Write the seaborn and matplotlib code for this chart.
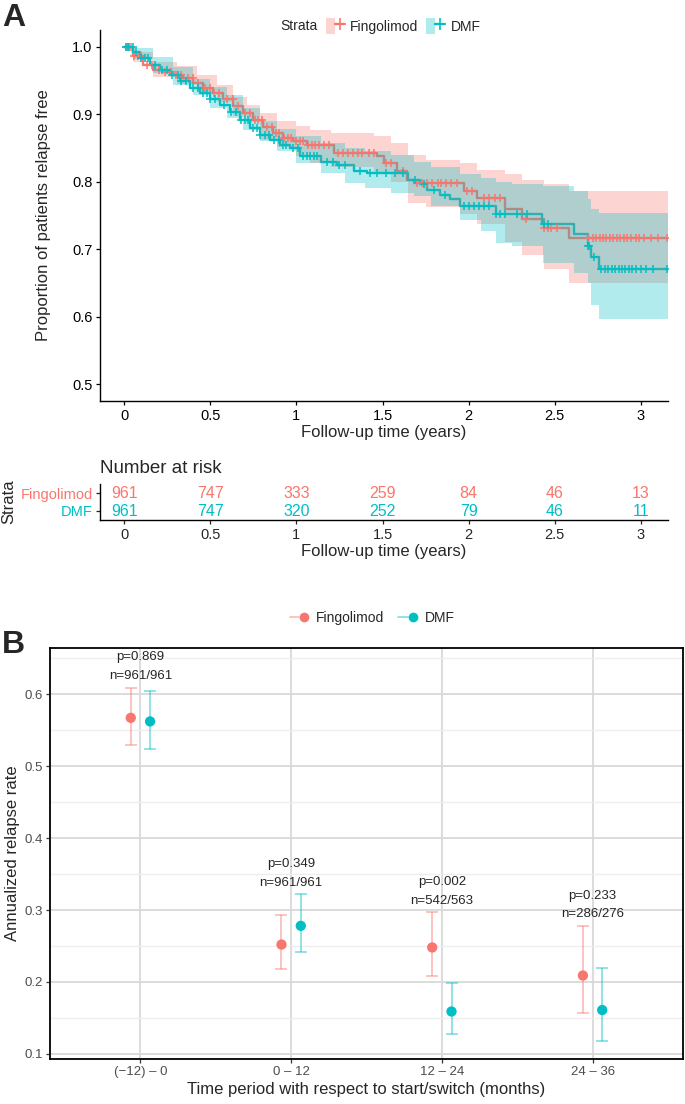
import numpy as np
import pandas as pd
import matplotlib
matplotlib.use("Agg")
import matplotlib.pyplot as plt
from matplotlib.lines import Line2D
from matplotlib.patches import Patch
from matplotlib.legend_handler import HandlerTuple
import seaborn as sns

sns.set_theme(style="ticks")
plt.rcParams["font.family"] = ["Liberation Sans", "DejaVu Sans"]

RED = "#F8766D"
CYAN = "#00BFC4"
groups = ["Fingolimod", "DMF"]

# ---- panel A: Kaplan-Meier steps ----
fingo_t = [0, 0.054, 0.112, 0.170, 0.228, 0.286, 0.344, 0.402, 0.460, 0.518, 0.576, 0.634,
           0.692, 0.750, 0.808, 0.866, 0.925, 0.983, 1.06, 1.217, 1.469, 1.508, 1.585, 1.644,
           1.682, 1.973, 2.05, 2.21, 2.31, 2.435, 2.58]
fingo_s = [1.0, 0.986, 0.973, 0.966, 0.962, 0.959, 0.954, 0.946, 0.939, 0.932, 0.922, 0.912,
           0.902, 0.892, 0.881, 0.872, 0.865, 0.860, 0.855, 0.843, 0.838, 0.828, 0.816, 0.803,
           0.798, 0.786, 0.776, 0.759, 0.745, 0.732, 0.716]
dmf_t = [0, 0.054, 0.093, 0.151, 0.209, 0.267, 0.325, 0.383, 0.441, 0.499, 0.557, 0.615,
         0.673, 0.731, 0.789, 0.847, 0.905, 0.963, 1.021, 1.14, 1.236, 1.333, 1.41, 1.65, 1.72,
         1.76, 1.834, 1.89, 1.95, 2.157, 2.425, 2.61, 2.69, 2.71, 2.757]
dmf_s = [1.0, 0.993, 0.983, 0.973, 0.966, 0.959, 0.949, 0.939, 0.932, 0.922, 0.914, 0.904,
         0.892, 0.880, 0.870, 0.862, 0.855, 0.850, 0.838, 0.830, 0.825, 0.816, 0.813, 0.803,
         0.796, 0.788, 0.781, 0.774, 0.764, 0.752, 0.738, 0.722, 0.705, 0.688, 0.671]

# confidence bands
fingo_band_t = [0, 0.05, 0.17, 0.306, 0.422, 0.538, 0.634, 0.712, 0.789, 0.886, 1.0, 1.08,
                1.2, 1.45, 1.55, 1.65, 1.75, 1.95, 2.05, 2.21, 2.31, 2.435, 2.58]
fingo_lo = [1.0, 0.978, 0.955, 0.945, 0.933, 0.918, 0.898, 0.888, 0.862, 0.852, 0.838, 0.828,
            0.822, 0.815, 0.800, 0.768, 0.763, 0.752, 0.737, 0.710, 0.691, 0.671, 0.650]
fingo_hi = [1.0, 0.992, 0.978, 0.971, 0.959, 0.944, 0.926, 0.914, 0.902, 0.890, 0.882, 0.877,
            0.873, 0.868, 0.858, 0.840, 0.833, 0.828, 0.818, 0.811, 0.803, 0.796, 0.786]
dmf_band_t = [0, 0.05, 0.17, 0.286, 0.402, 0.499, 0.596, 0.692, 0.789, 0.886, 1.0, 1.14,
              1.28, 1.4, 1.55, 1.68, 1.78, 1.95, 2.07, 2.157, 2.25, 2.43, 2.61, 2.69, 2.71,
              2.757]
dmf_lo = [1.0, 0.982, 0.961, 0.944, 0.929, 0.909, 0.895, 0.877, 0.860, 0.845, 0.828, 0.813,
          0.798, 0.791, 0.784, 0.779, 0.764, 0.744, 0.727, 0.709, 0.705, 0.680, 0.665, 0.650,
          0.618, 0.596]
dmf_hi = [1.0, 0.998, 0.985, 0.970, 0.952, 0.940, 0.928, 0.910, 0.890, 0.878, 0.868, 0.857,
          0.850, 0.845, 0.840, 0.830, 0.822, 0.812, 0.806, 0.800, 0.797, 0.793, 0.786, 0.774,
          0.760, 0.754]

# censoring times
fingo_cens = [0.01, 0.02, 0.04, 0.06, 0.08, 0.1, 0.13, 0.16, 0.2, 0.24, 0.27, 0.3, 0.33, 0.37,
              0.4, 0.43, 0.47, 0.5, 0.52, 0.55, 0.6, 0.63, 0.66, 0.7, 0.73, 0.76, 0.78, 0.8,
              0.83, 0.86, 0.88, 0.9, 0.93, 0.95, 0.97, 1.0, 1.02, 1.04, 1.07, 1.09, 1.11, 1.13,
              1.16, 1.19, 1.24, 1.27, 1.3, 1.33, 1.36, 1.38, 1.42, 1.45, 1.52, 1.55, 1.62, 1.7,
              1.73, 1.76, 1.79, 1.82, 1.84, 1.87, 1.9, 1.93, 1.99, 2.02, 2.09, 2.12, 2.15, 2.18,
              2.33, 2.44, 2.46, 2.48, 2.51, 2.69, 2.72, 2.74, 2.76, 2.78, 2.8, 2.82, 2.84, 2.86,
              2.88, 2.9, 2.92, 2.94, 2.97, 2.99, 3.02, 3.06, 3.1, 3.15]
dmf_cens = [0.01, 0.02, 0.03, 0.05, 0.07, 0.1, 0.12, 0.14, 0.18, 0.22, 0.25, 0.28, 0.31, 0.33,
            0.36, 0.4, 0.43, 0.46, 0.48, 0.5, 0.53, 0.58, 0.62, 0.65, 0.68, 0.7, 0.72, 0.75,
            0.77, 0.79, 0.82, 0.84, 0.87, 0.9, 0.92, 0.94, 0.98, 1.01, 1.04, 1.06, 1.08, 1.1,
            1.12, 1.18, 1.21, 1.25, 1.28, 1.37, 1.43, 1.47, 1.52, 1.57, 1.62, 1.69, 1.74, 1.8,
            1.86, 1.97, 2.0, 2.03, 2.06, 2.09, 2.12, 2.16, 2.18, 2.21, 2.28, 2.34, 2.44, 2.46,
            2.69, 2.7, 2.73, 2.77, 2.79, 2.81, 2.83, 2.85, 2.87, 2.89, 2.91, 2.93, 2.95, 2.97,
            3.0, 3.03, 3.07, 3.15]

risk_times = [0, 0.5, 1, 1.5, 2, 2.5, 3]
fingo_risk = [961, 747, 333, 259, 84, 46, 13]
dmf_risk = [961, 747, 320, 252, 79, 46, 11]

# ---- panel B: annualized relapse rate ----
periods = ["(\u221212) \u2013 0", "0 \u2013 12", "12 \u2013 24", "24 \u2013 36"]
fingo_arr = [0.567, 0.252, 0.248, 0.209]
fingo_arr_lo = [0.529, 0.218, 0.208, 0.157]
fingo_arr_hi = [0.609, 0.293, 0.297, 0.278]
dmf_arr = [0.562, 0.278, 0.159, 0.161]
dmf_arr_lo = [0.523, 0.241, 0.128, 0.118]
dmf_arr_hi = [0.604, 0.322, 0.199, 0.220]
p_labels = ["p=0.869", "p=0.349", "p=0.002", "p=0.233"]
n_labels = ["n=961/961", "n=961/961", "n=542/563", "n=286/276"]

W, H = 685, 1104
fig = plt.figure(figsize=(W / 100, H / 100), dpi=100)


def box(l, t, r, b):
    return [l / W, 1 - b / H, (r - l) / W, (b - t) / H]


T_END = 3.157
XLIM = (-0.14, T_END)
XTL = ["0", "0.5", "1", "1.5", "2", "2.5", "3"]

# ================= Panel A =================
ax = fig.add_axes(box(100, 30, 668, 401))
km = {
    "Fingolimod": (fingo_t, fingo_s, fingo_band_t, fingo_lo, fingo_hi, fingo_cens, RED),
    "DMF": (dmf_t, dmf_s, dmf_band_t, dmf_lo, dmf_hi, dmf_cens, CYAN),
}
for name, (t, s, bt, lo, hi, cens, col) in km.items():
    steps = pd.DataFrame({"time": t + [T_END], "surv": s + [s[-1]]})
    sns.lineplot(data=steps, x="time", y="surv", color=col, lw=1.7,
                 drawstyle="steps-post", ax=ax, zorder=2)
for name, (t, s, bt, lo, hi, cens, col) in km.items():
    ax.fill_between(bt + [T_END], lo + [lo[-1]], hi + [hi[-1]], step="post",
                    color=col, alpha=0.3, lw=0, zorder=3)
for name, (t, s, bt, lo, hi, cens, col) in km.items():
    idx = np.searchsorted(t, cens, side="right") - 1
    marks = pd.DataFrame({"time": cens, "surv": np.asarray(s)[idx]})
    sns.scatterplot(data=marks, x="time", y="surv", marker="+", color=col, s=40,
                    linewidth=1.1, ax=ax, zorder=4)

ax.set_xlim(*XLIM)
ax.set_ylim(0.475, 1.025)
ax.set_xticks(risk_times)
ax.set_xticklabels(XTL)
ax.set_yticks([0.5, 0.6, 0.7, 0.8, 0.9, 1.0])
ax.set_yticklabels(["0.5", "0.6", "0.7", "0.8", "0.9", "1.0"])
ax.tick_params(labelsize=10.5, length=3, width=0.9, colors="black", pad=2.5)
ax.set_xlabel("Follow-up time (years)", fontsize=12, labelpad=1.5)
ax.set_ylabel("Proportion of patients relapse free", fontsize=12, labelpad=15)
for sp in ["top", "right"]:
    ax.spines[sp].set_visible(False)
for sp in ["left", "bottom"]:
    ax.spines[sp].set_linewidth(1.0)
    ax.spines[sp].set_color("black")

handles_a = [(Patch(facecolor=c, alpha=0.3, lw=0),
              Line2D([], [], color=c, lw=1.7, marker="+", ms=8, mew=1.2))
             for c in (RED, CYAN)]
fig.text(280 / W, 1 - 26 / H, "Strata", fontsize=10, va="center", ha="left")
fig.legend(handles_a, groups, handler_map={tuple: HandlerTuple(ndivide=None)},
           loc="center left", bbox_to_anchor=(326 / W, 1 - 26 / H), ncol=2, frameon=False,
           fontsize=10, handlelength=1.3, handleheight=1.35, handletextpad=0.45,
           columnspacing=0.55, borderpad=0, borderaxespad=0)
fig.text(2 / W, 1 - 18 / H, "A", fontsize=23, fontweight="bold", va="center", ha="left")

# ================= Risk table =================
axr = fig.add_axes(box(100, 484, 668, 520))
for y, counts, col in [(1.5, fingo_risk, RED), (0.5, dmf_risk, CYAN)]:
    for tt, n in zip(risk_times, counts):
        axr.text(tt, y, str(n), color=col, fontsize=11.5, ha="center", va="center")
axr.set_xlim(*XLIM)
axr.set_ylim(0, 2)
axr.set_xticks(risk_times)
axr.set_xticklabels(XTL)
axr.set_yticks([1.5, 0.5])
axr.set_yticklabels(groups)
for lab, col in zip(axr.get_yticklabels(), (RED, CYAN)):
    lab.set_color(col)
axr.tick_params(axis="y", labelsize=10.5, length=3, width=0.9, pad=2)
axr.tick_params(axis="x", labelsize=10.5, length=3, width=0.9, pad=3)
axr.set_xlabel("Follow-up time (years)", fontsize=12, labelpad=1.5)
axr.set_ylabel("Strata", fontsize=12, labelpad=3)
axr.set_title("Number at risk", loc="left", fontsize=13.5, pad=8)
for sp in ["top", "right"]:
    axr.spines[sp].set_visible(False)
for sp in ["left", "bottom"]:
    axr.spines[sp].set_linewidth(1.0)
    axr.spines[sp].set_color("black")

# ================= Panel B =================
axb = fig.add_axes(box(50, 648, 683, 1059))
dodge = 0.064
arr = pd.DataFrame({
    "period": periods * 2,
    "group": [groups[0]] * 4 + [groups[1]] * 4,
    "rate": fingo_arr + dmf_arr,
    "lo": fingo_arr_lo + dmf_arr_lo,
    "hi": fingo_arr_hi + dmf_arr_hi,
})
arr["pos"] = [i - dodge for i in range(4)] + [i + dodge for i in range(4)]
palette = {groups[0]: RED, groups[1]: CYAN}

axb.set_axisbelow(True)
axb.set_yticks([0.1, 0.2, 0.3, 0.4, 0.5, 0.6])
axb.set_yticks([0.15, 0.25, 0.35, 0.45, 0.55, 0.65], minor=True)
axb.set_xticks(range(4))
axb.set_xticklabels(periods)
axb.grid(which="major", color="#D9D9D9", lw=1.3)
axb.grid(which="minor", axis="y", color="#EDEDED", lw=0.9)

for g, sub in arr.groupby("group", sort=False):
    axb.errorbar(sub["pos"], sub["rate"], yerr=[sub["rate"] - sub["lo"], sub["hi"] - sub["rate"]],
                 fmt="none", ecolor=palette[g], alpha=0.55, elinewidth=1.1, capsize=4.5,
                 capthick=1.1, zorder=2)
sns.scatterplot(data=arr, x="pos", y="rate", hue="group", palette=palette, s=55,
                edgecolor="none", legend=False, ax=axb, zorder=3)

top = np.maximum(fingo_arr_hi, dmf_arr_hi)
for i in range(4):
    axb.text(i, top[i] + 0.016, n_labels[i], ha="center", va="center", fontsize=9.5)
    axb.text(i, top[i] + 0.042, p_labels[i], ha="center", va="center", fontsize=9.5)

axb.set_xlim(-0.6, 3.6)
axb.set_ylim(0.093, 0.664)
axb.set_yticklabels(["0.1", "0.2", "0.3", "0.4", "0.5", "0.6"])
axb.tick_params(which="major", labelsize=9.5, labelcolor="#4D4D4D", color="#333333",
                length=3, width=0.9, pad=2)
axb.tick_params(which="minor", length=0)
axb.set_xlabel("Time period with respect to start/switch (months)", fontsize=12, labelpad=3)
axb.set_ylabel("Annualized relapse rate", fontsize=12, labelpad=3)
for sp in axb.spines.values():
    sp.set_visible(True)
    sp.set_linewidth(1.3)
    sp.set_color("black")

handles_b = [(Line2D([], [], color=c, lw=1.1, alpha=0.55),
              Line2D([], [], color=c, lw=0, marker="o", ms=7, mew=0))
             for c in (RED, CYAN)]
fig.legend(handles_b, groups, handler_map={tuple: HandlerTuple(ndivide=None)},
           loc="center", bbox_to_anchor=(372 / W, 1 - 618 / H), ncol=2, frameon=False,
           fontsize=10, handlelength=1.4, handletextpad=0.5, columnspacing=1.0,
           borderpad=0, borderaxespad=0)
fig.text(2 / W, 1 - 645 / H, "B", fontsize=23, fontweight="bold", va="center", ha="left")

fig.savefig("out.png", dpi=100)
